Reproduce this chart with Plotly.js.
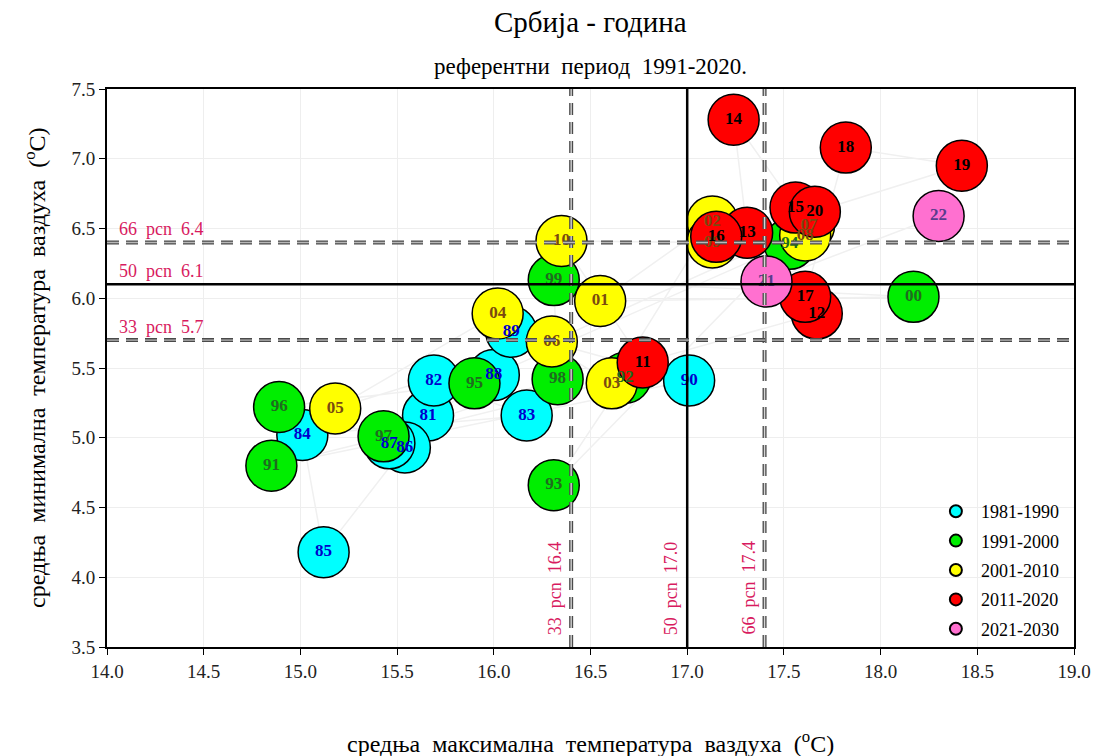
<!DOCTYPE html>
<html><head><meta charset="utf-8">
<script src="https://cdn.plot.ly/plotly-3.0.1.min.js"></script>
<style>html,body{margin:0;padding:0;background:#fff}</style>
</head><body><div id="chart" style="width:1094px;height:756px"></div>
<script>
// ---- data ----
const decades = ['1981-1990', '1991-2000', '2001-2010', '2011-2020', '2021-2030'];

const labels1980s = ['81', '82', '83', '84', '85', '86', '87', '88', '89', '90'];
const tmax1980s   = [15.66, 15.69, 16.17, 15.01, 15.12, 15.54, 15.46, 16.00, 16.09, 17.01];
const tmin1980s   = [5.16, 5.41, 5.16, 5.02, 4.18, 4.93, 4.96, 5.45, 5.76, 5.41];

const labels1990s = ['91', '92', '93', '94', '95', '96', '97', '98', '99', '00'];
const tmax1990s   = [14.85, 16.68, 16.31, 17.53, 15.90, 14.89, 15.43, 16.33, 16.31, 18.17];
const tmin1990s   = [4.80, 5.43, 4.66, 6.39, 5.39, 5.22, 5.01, 5.42, 6.13, 6.01];

const labels2000s = ['01', '02', '03', '04', '05', '06', '07', '08', '09', '10'];
const tmax2000s   = [16.55, 17.13, 16.61, 16.02, 15.18, 16.30, 17.63, 17.61, 17.13, 16.35];
const tmin2000s   = [5.98, 6.55, 5.39, 5.89, 5.21, 5.69, 6.52, 6.45, 6.40, 6.41];

const labels2010s = ['11', '12', '13', '14', '15', '16', '17', '18', '19', '20'];
const tmax2010s   = [16.77, 17.67, 17.31, 17.24, 17.56, 17.15, 17.61, 17.82, 18.42, 17.66];
const tmin2010s   = [5.54, 5.89, 6.47, 7.28, 6.65, 6.44, 6.01, 7.08, 6.95, 6.62];

const labels2020s = ['21', '22'];
const tmax2020s   = [17.41, 18.30];
const tmin2020s   = [6.12, 6.59];

// percentile reference lines
const pcnTmaxNames  = ['33', '50', '66'];
const pcnTmaxValues = [16.4, 17.0, 17.4];
const pcnTminNames  = ['33', '50', '66'];
const pcnTminValues = [5.7, 6.1, 6.4];

const xTickVals = [14.0, 14.5, 15.0, 15.5, 16.0, 16.5, 17.0, 17.5, 18.0, 18.5, 19.0];
const yTickVals = [3.5, 4.0, 4.5, 5.0, 5.5, 6.0, 6.5, 7.0, 7.5];

// ---- styles ----
const fillColors = ['#00ffff', '#00ee00', '#ffff00', '#ff0000', '#ff70d0'];
const textColors = ['#0000cc', '#1f6b1f', '#7a4a10', '#000000', '#5a3c8c'];
const serif = "'Liberation Serif', 'Times New Roman', Times, serif";

const groups = [
  [labels1980s, tmax1980s, tmin1980s],
  [labels1990s, tmax1990s, tmin1990s],
  [labels2000s, tmax2000s, tmin2000s],
  [labels2010s, tmax2010s, tmin2010s],
  [labels2020s, tmax2020s, tmin2020s]
];

const traces = [];
// faint chronological path
const pathX = [], pathY = [];
groups.forEach(g => { pathX.push(...g[1]); pathY.push(...g[2]); });
traces.push({
  x: pathX, y: pathY, mode: 'lines', type: 'scatter',
  line: {color: '#f0f0f0', width: 1.5}, hoverinfo: 'skip', showlegend: false
});
groups.forEach((g, i) => {
  traces.push({
    x: g[1], y: g[2], mode: 'markers', type: 'scatter', name: decades[i],
    legendgroup: decades[i],
    marker: {size: 51, color: fillColors[i], line: {color: '#000', width: 1.5}},
    text: g[0], hoverinfo: 'text+x+y'
  });
});
groups.forEach((g, i) => {
  traces.push({
    x: g[1], y: g[2], mode: 'text', type: 'scatter', showlegend: false,
    text: g[0].map(t => '<b>' + t + '</b>'),
    textposition: 'middle center',
    textfont: {family: serif, size: 17, color: textColors[i]},
    hoverinfo: 'skip'
  });
});

const shapes = [];
const annotations = [];
const dashPat = '12px,7px';
pcnTmaxValues.forEach((v, i) => {
  const solid = pcnTmaxNames[i] === '50';
  if (solid) {
    shapes.push({type: 'line', xref: 'x', yref: 'paper', x0: v, x1: v, y0: 0, y1: 1,
      line: {color: '#000', width: 2.5}, layer: 'above'});
  } else {
    shapes.push({type: 'line', xref: 'x', yref: 'paper', x0: v, x1: v, y0: 0, y1: 1,
      line: {color: '#4a4a4a', width: 4, dash: dashPat}, layer: 'above'});
    shapes.push({type: 'line', xref: 'x', yref: 'paper', x0: v, x1: v, y0: 0, y1: 1,
      line: {color: '#d4d4d4', width: 1.4, dash: dashPat}, layer: 'above'});
  }
  annotations.push({
    x: v, y: 3.5, xref: 'x', yref: 'y', xanchor: 'right', yanchor: 'bottom',
    xshift: -4, yshift: 10, textangle: -90, showarrow: false,
    text: pcnTmaxNames[i] + '\u00a0 pcn\u00a0 ' + v.toFixed(1),
    font: {family: serif, size: 18, color: '#d81b60'}
  });
});
pcnTminValues.forEach((v, i) => {
  const solid = pcnTminNames[i] === '50';
  if (solid) {
    shapes.push({type: 'line', xref: 'paper', yref: 'y', x0: 0, x1: 1, y0: v, y1: v,
      line: {color: '#000', width: 2.5}, layer: 'above'});
  } else {
    shapes.push({type: 'line', xref: 'paper', yref: 'y', x0: 0, x1: 1, y0: v, y1: v,
      line: {color: '#4a4a4a', width: 4, dash: dashPat}, layer: 'above'});
    shapes.push({type: 'line', xref: 'paper', yref: 'y', x0: 0, x1: 1, y0: v, y1: v,
      line: {color: '#b8b8b8', width: 1.4, dash: dashPat}, layer: 'above'});
  }
  annotations.push({
    x: 14.05, y: v, xref: 'x', yref: 'y', xanchor: 'left', yanchor: 'bottom',
    yshift: 1, showarrow: false,
    text: pcnTminNames[i] + '\u00a0 pcn\u00a0 ' + v.toFixed(1),
    font: {family: serif, size: 18, color: '#d81b60'}
  });
});

// titles
annotations.push({
  xref: 'paper', yref: 'paper', x: 0.5, y: 1, yshift: 67, xanchor: 'center', yanchor: 'middle',
  showarrow: false, text: 'Србија - година', font: {family: serif, size: 29, color: '#000'}
});
annotations.push({
  xref: 'paper', yref: 'paper', x: 0.5, y: 1, yshift: 23, xanchor: 'center', yanchor: 'middle',
  showarrow: false, text: 'референтни\u00a0 период\u00a0 1991-2020.', font: {family: serif, size: 23, color: '#000'}
});
annotations.push({
  xref: 'paper', yref: 'paper', x: 0.5, y: 0, yshift: -95, xanchor: 'center', yanchor: 'middle',
  showarrow: false, text: 'средња\u00a0 максимална\u00a0 температура\u00a0 ваздуха\u00a0 (<sup>o</sup>C)',
  font: {family: serif, size: 24, color: '#000'}
});
annotations.push({
  xref: 'paper', yref: 'paper', x: 0, y: 0.5, xshift: -72, xanchor: 'center', yanchor: 'middle',
  textangle: -90, showarrow: false,
  text: 'средња\u00a0 минимална\u00a0 температура\u00a0 ваздуха\u00a0 (<sup>o</sup>C)',
  font: {family: serif, size: 24, color: '#000'}
});

const axisCommon = {
  showline: true, linecolor: '#000', linewidth: 2, mirror: true,
  ticks: 'outside', ticklen: 6, tickwidth: 1, tickcolor: '#000',
  showgrid: true, gridcolor: '#eeeeee', gridwidth: 1, zeroline: false,
  tickfont: {family: serif, size: 19, color: '#222'}
};

const layout = {
  width: 1094, height: 756,
  margin: {l: 107, r: 20, t: 89, b: 109},
  paper_bgcolor: '#fff', plot_bgcolor: '#fff',
  showlegend: true,
  font: {family: serif},
  xaxis: Object.assign({}, axisCommon, {range: [14, 19], tickvals: xTickVals,
    ticktext: xTickVals.map(v => v.toFixed(1))}),
  yaxis: Object.assign({}, axisCommon, {range: [3.5, 7.5], tickvals: yTickVals,
    ticktext: yTickVals.map(v => v.toFixed(1))}),
  legend: {
    x: 0.852, y: 0.0, xanchor: 'left', yanchor: 'bottom',
    bgcolor: 'rgba(0,0,0,0)', borderwidth: 0,
    traceorder: 'grouped', tracegroupgap: 3, itemsizing: 'constant', itemwidth: 40,
    font: {family: serif, size: 18, color: '#000'}
  },
  shapes: shapes,
  annotations: annotations
};

Plotly.newPlot('chart', traces, layout, {displayModeBar: false, staticPlot: true});
</script>
</body></html>
